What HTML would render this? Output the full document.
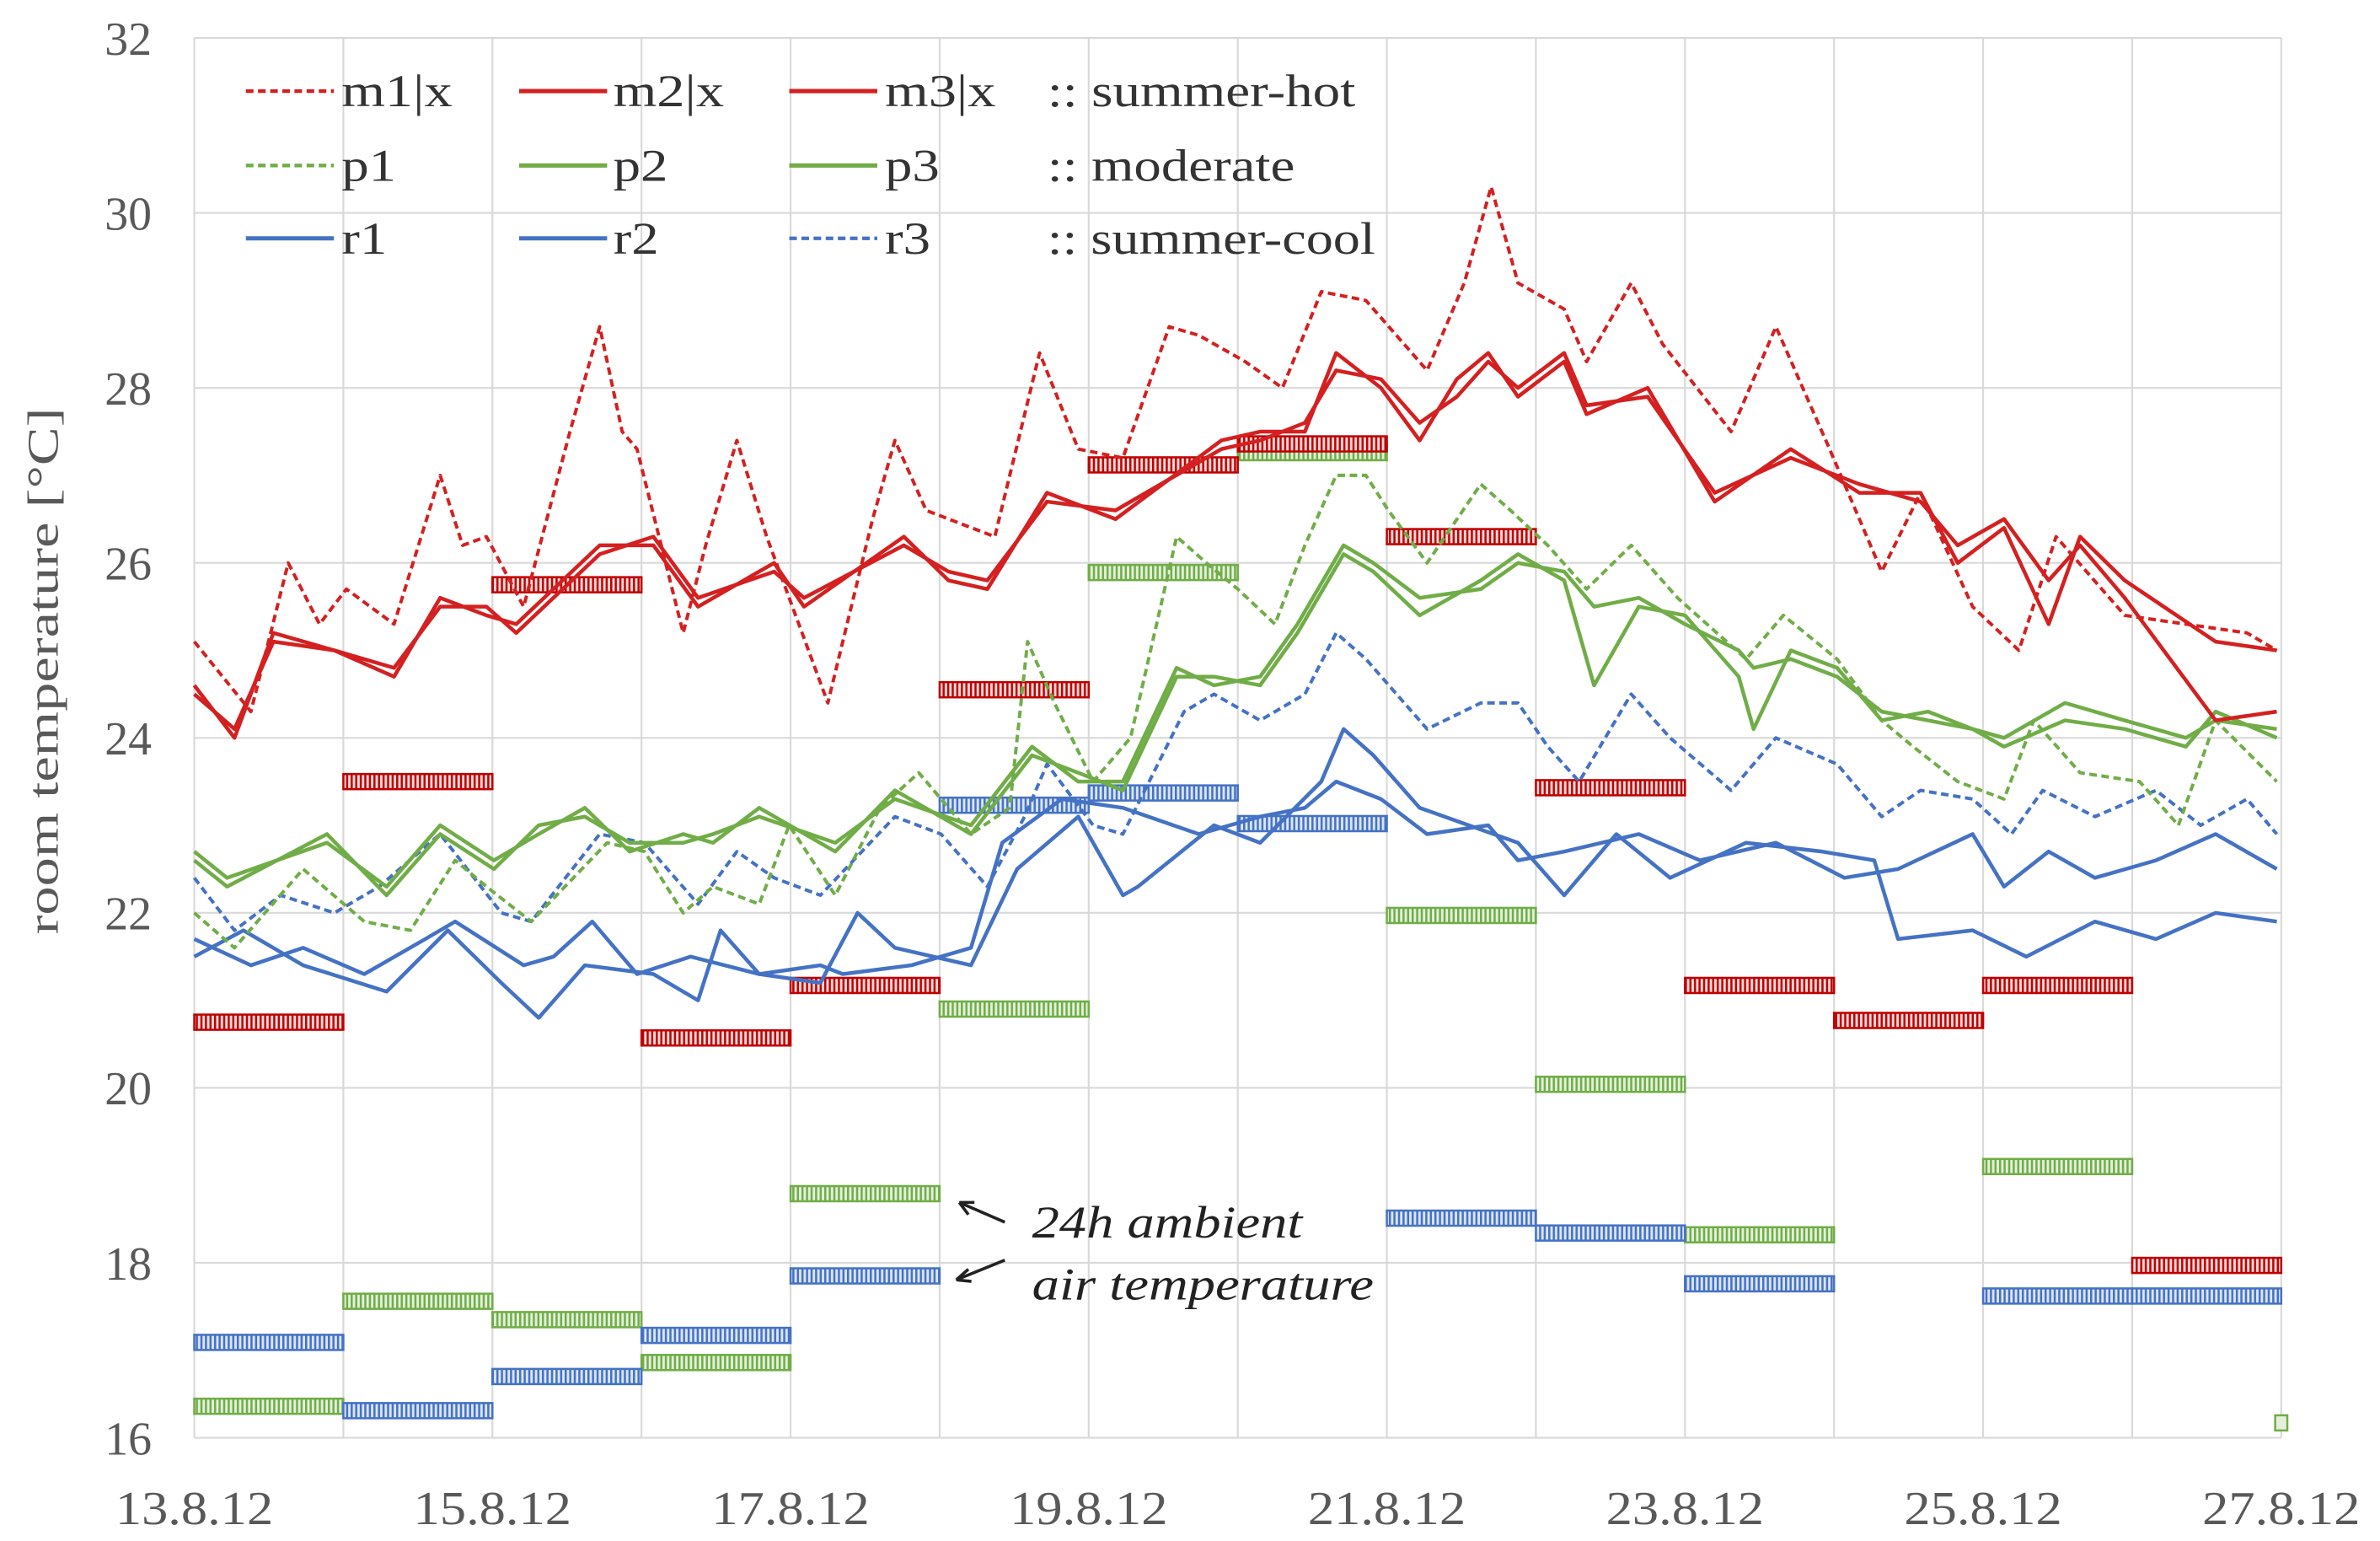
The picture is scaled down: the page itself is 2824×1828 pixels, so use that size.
<!DOCTYPE html>
<html><head><meta charset="utf-8"><style>
html,body{margin:0;padding:0;background:#fff;}
svg{display:block;}
text{font-family:"Liberation Serif",serif;}
</style></head><body>
<svg id="chart" width="2824" height="1828" viewBox="0 0 1568 1015" preserveAspectRatio="none" xmlns="http://www.w3.org/2000/svg">
<defs>
<pattern id="hr" width="3" height="10" patternUnits="userSpaceOnUse"><rect width="3" height="10" fill="#f2dcdc"/><rect width="1.4" height="10" fill="#c00000"/></pattern>
<pattern id="hg" width="3" height="10" patternUnits="userSpaceOnUse"><rect width="3" height="10" fill="#e4f0dc"/><rect width="1.4" height="10" fill="#70ad47"/></pattern>
<pattern id="hb" width="3" height="10" patternUnits="userSpaceOnUse"><rect width="3" height="10" fill="#dbe5f4"/><rect width="1.4" height="10" fill="#4472c4"/></pattern>
</defs>
<g id="grid"></g>
<g id="bars"></g>
<g id="lines"></g>
<g id="axes"></g>
<text transform="translate(38,442) rotate(-90)" text-anchor="middle" font-size="29" fill="#595959" textLength="347" lengthAdjust="spacingAndGlyphs">room temperature [°C]</text>
<g font-size="30" fill="#333">
 <line x1="162" y1="60" x2="220" y2="60" stroke="#d42020" stroke-width="2.4" stroke-dasharray="5,3"/><text x="225" y="70" textLength="73" lengthAdjust="spacingAndGlyphs">m1|x</text>
 <line x1="342" y1="60" x2="400" y2="60" stroke="#d42020" stroke-width="2.8"/><text x="404" y="70" textLength="73" lengthAdjust="spacingAndGlyphs">m2|x</text>
 <line x1="520" y1="60" x2="578" y2="60" stroke="#d42020" stroke-width="2.8"/><text x="583" y="70" textLength="73" lengthAdjust="spacingAndGlyphs">m3|x</text>
 <text x="690" y="70" textLength="203" lengthAdjust="spacingAndGlyphs">:: summer-hot</text>
 <line x1="162" y1="109" x2="220" y2="109" stroke="#70ad47" stroke-width="2.4" stroke-dasharray="5,3"/><text x="225" y="119" textLength="36" lengthAdjust="spacingAndGlyphs">p1</text>
 <line x1="342" y1="109" x2="400" y2="109" stroke="#70ad47" stroke-width="2.8"/><text x="404" y="119" textLength="36" lengthAdjust="spacingAndGlyphs">p2</text>
 <line x1="520" y1="109" x2="578" y2="109" stroke="#70ad47" stroke-width="2.8"/><text x="583" y="119" textLength="36" lengthAdjust="spacingAndGlyphs">p3</text>
 <text x="690" y="119" textLength="163" lengthAdjust="spacingAndGlyphs">:: moderate</text>
 <line x1="162" y1="157" x2="220" y2="157" stroke="#4472c4" stroke-width="2.8"/><text x="225" y="167" textLength="30" lengthAdjust="spacingAndGlyphs">r1</text>
 <line x1="342" y1="157" x2="400" y2="157" stroke="#4472c4" stroke-width="2.8"/><text x="404" y="167" textLength="30" lengthAdjust="spacingAndGlyphs">r2</text>
 <line x1="520" y1="157" x2="578" y2="157" stroke="#4472c4" stroke-width="2.4" stroke-dasharray="5,3"/><text x="583" y="167" textLength="30" lengthAdjust="spacingAndGlyphs">r3</text>
 <text x="690" y="167" textLength="216" lengthAdjust="spacingAndGlyphs">:: summer-cool</text>
</g>
<g font-size="30" font-style="italic" fill="#222">
 <text x="680" y="815" textLength="178" lengthAdjust="spacingAndGlyphs">24h ambient</text>
 <text x="680" y="856" textLength="225" lengthAdjust="spacingAndGlyphs">air temperature</text>
 <path d="M662,805 L632,792 M632,792 l10,0 M632,792 l6,8" stroke="#222" stroke-width="2" fill="none"/>
 <path d="M662,830 L630,843 M630,843 l8,-7 M630,843 l10,1" stroke="#222" stroke-width="2" fill="none"/>
</g>
</svg>
<script>
const yTicks=[16,18,20,22,24,26,28,30,32];
const xTickLabels=["13.8.12","15.8.12","17.8.12","19.8.12","21.8.12","23.8.12","25.8.12","27.8.12"];
const ambRed=[20.75,23.5,25.75,20.57,21.17,24.55,27.12,27.36,26.3,23.43,21.17,20.77,21.17,17.97];
const ambGreen=[16.36,17.56,17.35,16.86,18.79,20.9,25.89,27.26,21.97,20.04,18.32,null,19.1,null];
const ambBlue=[17.09,16.31,16.7,17.17,17.85,23.23,23.37,23.02,18.51,18.34,17.76,null,17.62,17.62];
const m1T=[0,.38,.63,.84,1.02,1.34,1.65,1.80,1.96,2.21,2.52,2.72,2.87,2.97,3.28,3.43,3.64,3.84,4.25,4.55,4.70,4.91,5.37,5.67,5.93,6.23,6.54,6.74,7.05,7.30,7.56,7.86,8.27,8.52,8.70,8.88,9.19,9.34,9.64,9.85,10.31,10.61,10.97,11.32,11.58,11.93,12.24,12.49,12.95,13.36,13.77,13.97];
const m1V=[25.1,24.3,26.0,25.3,25.7,25.3,27.0,26.2,26.3,25.5,27.5,28.7,27.5,27.3,25.2,26.2,27.4,26.3,24.4,26.5,27.4,26.6,26.3,28.4,27.3,27.2,28.7,28.6,28.3,28.0,29.1,29.0,28.2,29.2,30.3,29.2,28.9,28.3,29.2,28.5,27.5,28.7,27.3,25.9,26.8,25.5,25.0,26.3,25.4,25.3,25.2,25.0];
const mT=[0,.27,.53,.94,1.34,1.65,1.96,2.16,2.72,3.08,3.38,3.89,4.09,4.76,5.06,5.32,5.72,6.18,6.89,7.15,7.45,7.66,7.96,8.22,8.47,8.68,8.88,9.19,9.34,9.75,10.2,10.71,11.17,11.58,11.83,12.14,12.44,12.65,12.95,13.56,13.97];
const m2V=[24.6,24.0,25.2,25.0,24.7,25.6,25.4,25.3,26.2,26.2,25.5,26.0,25.5,26.3,25.8,25.7,26.8,26.5,27.4,27.5,27.5,28.4,28.0,27.4,28.1,28.4,27.9,28.3,27.7,28.0,26.7,27.3,26.8,26.8,26.0,26.4,25.3,26.3,25.8,25.1,25.0];
const m3V=[24.5,24.1,25.1,25.0,24.8,25.5,25.5,25.2,26.1,26.3,25.6,25.9,25.6,26.2,25.9,25.8,26.7,26.6,27.3,27.4,27.6,28.2,28.1,27.6,27.9,28.3,28.0,28.4,27.8,27.9,26.8,27.2,26.9,26.7,26.2,26.5,25.8,26.2,25.6,24.2,24.3];
const p1T=[0,.27,.73,1.14,1.45,1.75,1.96,2.26,2.77,3.02,3.28,3.48,3.79,3.99,4.30,4.60,4.86,5.21,5.47,5.59,5.77,6.03,6.28,6.59,6.79,7.0,7.25,7.45,7.66,7.86,8.01,8.27,8.63,8.83,9.08,9.34,9.64,9.95,10.41,10.66,11.02,11.32,11.53,11.83,12.14,12.34,12.65,13.05,13.31,13.56,13.97];
const p1V=[22.0,21.6,22.5,21.9,21.8,22.6,22.3,21.9,22.8,22.7,22.0,22.3,22.1,23.0,22.2,23.2,23.6,22.9,23.2,25.1,24.4,23.5,24.0,26.3,26.0,25.7,25.3,26.2,27.0,27.0,26.6,26.0,26.9,26.6,26.2,25.7,26.2,25.6,24.9,25.4,24.9,24.2,23.9,23.5,23.3,24.2,23.6,23.5,23.0,24.2,23.5];
const pT=[0,.22,.89,1.29,1.65,2.01,2.31,2.62,2.92,3.28,3.48,3.79,4.30,4.70,5.21,5.62,5.93,6.23,6.59,6.84,7.15,7.40,7.71,7.91,8.22,8.63,8.88,9.19,9.39,9.69,10.0,10.36,10.46,10.71,11.02,11.32,11.63,11.93,12.14,12.55,12.95,13.36,13.56,13.97];
const p2V=[22.7,22.4,22.8,22.3,23.0,22.6,22.9,23.2,22.7,22.9,22.8,23.2,22.7,23.4,22.9,23.8,23.6,23.4,24.7,24.7,24.6,25.2,26.1,25.9,25.4,25.8,26.1,25.8,24.6,25.5,25.4,24.7,24.1,25.0,24.8,24.2,24.3,24.1,23.9,24.2,24.1,23.9,24.3,24.0];
const p3V=[22.6,22.3,22.9,22.2,22.9,22.5,23.0,23.1,22.8,22.8,22.9,23.1,22.8,23.3,23.0,23.9,23.5,23.5,24.8,24.6,24.7,25.3,26.2,26.0,25.6,25.7,26.0,25.9,25.5,25.6,25.3,25.0,24.8,24.9,24.7,24.3,24.2,24.1,24.0,24.4,24.2,24.0,24.2,24.1];
const r3T=[0,.27,.58,.94,1.24,1.65,2.06,2.26,2.72,3.02,3.38,3.64,3.89,4.20,4.70,5.01,5.32,5.57,5.72,6.03,6.23,6.64,6.84,7.15,7.45,7.66,7.86,8.27,8.63,8.88,9.08,9.29,9.64,9.90,10.31,10.61,11.02,11.32,11.58,11.93,12.19,12.40,12.75,13.16,13.46,13.77,13.97];
const r3V=[22.4,21.8,22.2,22.0,22.3,22.9,22.0,21.9,22.9,22.8,22.1,22.7,22.4,22.2,23.1,22.9,22.3,23.1,23.7,23.0,22.9,24.3,24.5,24.2,24.5,25.2,24.9,24.1,24.4,24.4,23.9,23.5,24.5,24.0,23.4,24.0,23.7,23.1,23.4,23.3,22.9,23.4,23.1,23.4,23.0,23.3,22.9];
const r1T=[0,.33,.73,1.29,1.70,2.06,2.31,2.62,3.08,3.38,3.53,3.79,4.20,4.45,4.70,5.21,5.52,5.93,6.23,6.33,6.84,7.15,7.56,7.71,7.91,8.22,8.88,9.19,9.54,9.90,10.41,10.92,11.27,11.43,11.93,12.29,12.75,13.16,13.56,13.97];
const r1V=[21.5,21.8,21.4,21.1,21.8,21.2,20.8,21.4,21.3,21.0,21.8,21.3,21.2,22.0,21.6,21.4,22.5,23.1,22.2,22.3,23.0,22.8,23.5,24.1,23.8,23.2,22.8,22.2,22.9,22.4,22.8,22.7,22.6,21.7,21.8,21.5,21.9,21.7,22.0,21.9];
const r2T=[0,.38,.73,1.14,1.55,1.75,2.21,2.41,2.67,2.97,3.33,3.79,4.20,4.35,4.81,5.21,5.42,5.82,6.23,6.74,7.15,7.45,7.66,7.96,8.27,8.68,8.88,9.19,9.69,10.10,10.61,11.07,11.43,11.93,12.14,12.44,12.75,13.16,13.56,13.97];
const r2V=[21.7,21.4,21.6,21.3,21.7,21.9,21.4,21.5,21.9,21.3,21.5,21.3,21.4,21.3,21.4,21.6,22.8,23.3,23.2,22.9,23.1,23.2,23.5,23.3,22.9,23.0,22.6,22.7,22.9,22.6,22.8,22.4,22.5,22.9,22.3,22.7,22.4,22.6,22.9,22.5];

const NS="http://www.w3.org/2000/svg";
const X0=128,DAY=98.21,Y0=25,DEG=57.625;
const xs=d=>X0+d*DAY, ys=t=>Y0+(32-t)*DEG;
function mk(tag,attrs,parent){const e=document.createElementNS(NS,tag);for(const k in attrs)e.setAttribute(k,attrs[k]);parent.appendChild(e);return e;}
const grid=document.getElementById('grid'),axes=document.getElementById('axes'),bars=document.getElementById('bars'),lines=document.getElementById('lines');
yTicks.forEach(t=>{
  const l=mk('line',{x1:xs(0),x2:xs(14),y1:ys(t),y2:ys(t),stroke:'#d9d9d9','stroke-width':1.2},grid);
  
  
  const tx=mk('text',{x:100,y:ys(t)+11,'text-anchor':'end','font-size':31,fill:'#595959'},axes);
  tx.textContent=t;
  
  
});
for(let d=0;d<=14;d++){
  const l=mk('line',{x1:xs(d),x2:xs(d),y1:ys(32),y2:ys(16),stroke:'#d9d9d9','stroke-width':1.2},grid);
  
  
}
xTickLabels.forEach((s,i)=>{
  const tx=mk('text',{x:xs(i*2),y:1004,'text-anchor':'middle','font-size':31,fill:'#595959',textLength:104,lengthAdjust:'spacingAndGlyphs'},axes);
  tx.textContent=s;
  
  
});
function drawBars(vals,pat,col,name){
  vals.forEach((v,i)=>{
    if(v===null)return;
    const r=mk('rect',{x:xs(i),y:ys(v)-5,width:DAY,height:10,fill:'url(#'+pat+')',stroke:col,'stroke-width':1.4},bars);
    
    
  });
}
drawBars(ambGreen,'hg','#70ad47','ambient-bar-moderate');
drawBars(ambBlue,'hb','#4472c4','ambient-bar-summer-cool');
drawBars(ambRed,'hr','#c00000','ambient-bar-summer-hot');
const gEnd=mk('rect',{x:xs(14)-4,y:ys(16.17)-5,width:8,height:10,fill:'#e4f0dc',stroke:'#70ad47','stroke-width':1.4},bars);


function drawLine(T,V,col,dash,name){
  const n=Math.min(T.length,V.length);let d='';
  for(let i=0;i<n;i++)d+=(i?'L':'M')+xs(T[i]).toFixed(1)+','+ys(V[i]).toFixed(1);
  const p=mk('path',{d:d,fill:'none',stroke:col,'stroke-width':dash?2.2:2.5,'stroke-linejoin':'round'},lines);
  if(dash)p.setAttribute('stroke-dasharray','5,3');
  
  
}
drawLine(r1T,r1V,'#4472c4',false,'line-r1');
drawLine(r2T,r2V,'#4472c4',false,'line-r2');
drawLine(r3T,r3V,'#4472c4',true,'line-r3');
drawLine(p1T,p1V,'#70ad47',true,'line-p1');
drawLine(pT,p2V,'#70ad47',false,'line-p2');
drawLine(pT,p3V,'#70ad47',false,'line-p3');
drawLine(m1T,m1V,'#d42020',true,'line-m1');
drawLine(mT,m2V,'#d42020',false,'line-m2');
drawLine(mT,m3V,'#d42020',false,'line-m3');
</script>
</body></html>
